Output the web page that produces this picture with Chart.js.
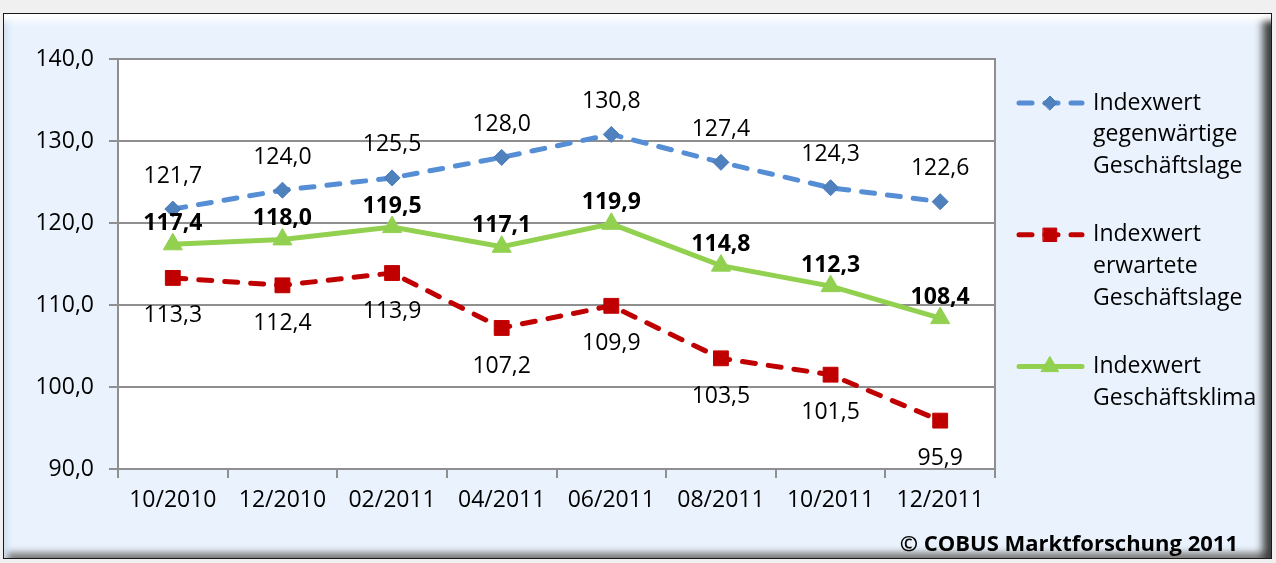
<!DOCTYPE html>
<html>
<head>
<meta charset="utf-8">
<script src="https://cdn.jsdelivr.net/npm/chart.js@4.4.0/dist/chart.umd.min.js"></script>
<style>
html, body { margin: 0; padding: 0; background: #f0f0f0; width: 1276px; height: 563px; overflow: hidden; }
#frame {
    position: absolute; left: 3px; top: 13px; width: 1267px; height: 544px;
    border: 1px solid #1a1a1a; background: #eaf3fd;
    box-shadow: inset 0 13px 6px -6px #ffffff, inset 10px 0 6px -6px #d3e2f2,
                inset -12px 0 8px -4px #3c3c3c, inset 0 -9px 6px -3px #8a8a8a;
}
canvas { position: absolute; left: 0; top: 0; }
</style>
</head>
<body>
<div id="frame"></div>
<canvas id="indexChart" width="1276" height="563"></canvas>
<script>
const categories = ['10/2010', '12/2010', '02/2011', '04/2011', '06/2011', '08/2011', '10/2011', '12/2011'];
const gegenwaertig = [121.7, 124.0, 125.5, 128.0, 130.8, 127.4, 124.3, 122.6];
const erwartet = [113.3, 112.4, 113.9, 107.2, 109.9, 103.5, 101.5, 95.9];
const klima = [117.4, 118.0, 119.5, 117.1, 119.9, 114.8, 112.3, 108.4];
const seriesNames = [
    ['Indexwert', 'gegenwärtige', 'Geschäftslage'],
    ['Indexwert', 'erwartete', 'Geschäftslage'],
    ['Indexwert', 'Geschäftsklima']
];
const yMin = 90, yMax = 140, yStep = 10;
const copyright = '© COBUS Marktforschung 2011';

const FONT = "'Open Sans', 'Noto Sans', sans-serif";
const SIZE = 23;

function fmt(v) {
    return v.toFixed(1).replace('.', ',');
}

const plotFrame = {
    id: 'plotFrame',
    beforeDraw(chart) {
        const a = chart.chartArea, ctx = chart.ctx;
        ctx.save();
        ctx.fillStyle = '#ffffff';
        ctx.fillRect(a.left, a.top, a.right - a.left, a.bottom - a.top);
        ctx.restore();
    },
    beforeDatasetsDraw(chart) {
        const a = chart.chartArea, ctx = chart.ctx;
        ctx.save();
        ctx.strokeStyle = '#8f8f8f';
        ctx.lineWidth = 2;
        ctx.beginPath();
        ctx.moveTo(a.left, a.top);
        ctx.lineTo(a.right, a.top);
        ctx.lineTo(a.right, a.bottom);
        ctx.stroke();
        ctx.restore();
    }
};

const valueLabels = {
    id: 'valueLabels',
    afterDatasetsDraw(chart) {
        const ctx = chart.ctx;
        ctx.save();
        ctx.textAlign = 'center';
        ctx.textBaseline = 'middle';
        ctx.fillStyle = '#000000';
        chart.data.datasets.forEach((ds, i) => {
            const meta = chart.getDatasetMeta(i);
            ctx.font = (ds.labelBold ? 'bold ' : '') + SIZE + 'px ' + FONT;
            meta.data.forEach((pt, j) => {
                ctx.fillText(fmt(ds.data[j]), pt.x, pt.y + ds.labelOffset);
            });
        });
        ctx.restore();
    }
};

const sideLegend = {
    id: 'sideLegend',
    afterDraw(chart) {
        const ctx = chart.ctx;
        let y = 103;
        ctx.save();
        chart.data.datasets.forEach((ds, i) => {
            ctx.strokeStyle = ds.borderColor;
            ctx.lineWidth = ds.borderWidth;
            ctx.lineCap = 'round';
            ctx.setLineDash(ds.borderDash || []);
            ctx.beginPath();
            ctx.moveTo(1019, y);
            ctx.lineTo(1082, y);
            ctx.stroke();
            ctx.setLineDash([]);
            ctx.fillStyle = ds.pointBackgroundColor;
            ctx.strokeStyle = ds.pointBorderColor;
            ctx.lineWidth = 1;
            Chart.helpers.drawPoint(ctx, { pointStyle: ds.pointStyle, radius: ds.pointRadius - 1, rotation: 0, borderWidth: 1 }, 1050, y);
            ctx.fillStyle = '#000000';
            ctx.font = SIZE + 'px ' + FONT;
            ctx.textAlign = 'left';
            ctx.textBaseline = 'middle';
            ds.legendLines.forEach((line, k) => {
                ctx.fillText(line, 1093, y + k * 31.6);
            });
            y += ds.legendLines.length * 31.6 + 37;
        });
        ctx.font = 'bold 22px ' + FONT;
        ctx.textAlign = 'right';
        ctx.fillText(copyright, 1238, 545);
        ctx.restore();
    }
};

new Chart(document.getElementById('indexChart'), {
    type: 'line',
    data: {
        labels: categories,
        datasets: [{
            label: seriesNames[0].join(' '),
            legendLines: seriesNames[0],
            data: gegenwaertig,
            borderColor: '#558ed5',
            borderWidth: 5,
            borderDash: [13, 13],
            borderCapStyle: 'round',
            pointStyle: 'rectRot',
            pointRadius: 8,
            pointBackgroundColor: '#4f81bd',
            pointBorderColor: '#4a7bc0',
            pointBorderWidth: 1,
            labelOffset: -33,
            labelBold: false
        }, {
            label: seriesNames[1].join(' '),
            legendLines: seriesNames[1],
            data: erwartet,
            borderColor: '#c00000',
            borderWidth: 5,
            borderDash: [13, 13],
            borderCapStyle: 'round',
            pointStyle: 'rect',
            pointRadius: 10.5,
            pointBackgroundColor: '#c00000',
            pointBorderColor: '#c00000',
            pointBorderWidth: 1,
            labelOffset: 38,
            labelBold: false
        }, {
            label: seriesNames[2].join(' '),
            legendLines: seriesNames[2],
            data: klima,
            borderColor: '#92d050',
            borderWidth: 5,
            pointStyle: 'triangle',
            pointRadius: 11,
            pointBackgroundColor: '#92d050',
            pointBorderColor: '#92d050',
            pointBorderWidth: 1,
            labelOffset: -21,
            labelBold: true
        }]
    },
    options: {
        responsive: false,
        animation: false,
        layout: { padding: { left: 0, right: 281, top: 59, bottom: 0 } },
        plugins: {
            legend: { display: false },
            tooltip: { enabled: false }
        },
        scales: {
            x: {
                offset: true,
                grid: { offset: true, drawOnChartArea: false, color: '#8f8f8f', lineWidth: 2, tickLength: 9 },
                border: { color: '#8f8f8f', width: 2 },
                ticks: { color: '#000000', font: { family: FONT, size: SIZE }, padding: 9, maxRotation: 0 },
                afterFit(scale) { scale.height = 94; }
            },
            y: {
                min: yMin,
                max: yMax,
                grid: { color: '#8f8f8f', lineWidth: 2, tickLength: 9 },
                border: { color: '#8f8f8f', width: 2 },
                ticks: {
                    stepSize: yStep,
                    color: '#000000',
                    font: { family: FONT, size: SIZE },
                    padding: 15,
                    callback: v => fmt(v)
                },
                afterFit(scale) { scale.width = 118; }
            }
        }
    },
    plugins: [plotFrame, valueLabels, sideLegend]
});
</script>
</body>
</html>
